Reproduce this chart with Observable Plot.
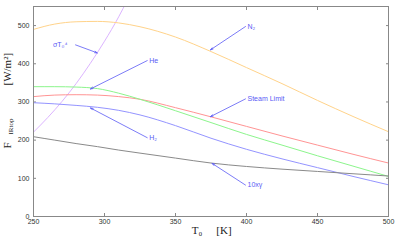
<!DOCTYPE html>
<html>
<head>
<meta charset="utf-8">
<script src="https://cdn.jsdelivr.net/npm/d3@7"></script>
<script src="https://cdn.jsdelivr.net/npm/@observablehq/plot@0.6"></script>
<style>
  html, body { margin: 0; padding: 0; background: #fff; }
</style>
</head>
<body>
<div id="chart"></div>
<script>
// Temperature grid (K)
const temps = [250, 265, 280, 295, 310, 325, 350, 375, 400, 425, 450, 475, 500];
// Series values (W/m^2)
const n2    = [490, 504, 510, 511, 507, 497, 470, 432, 390, 348, 304, 262, 222];
const steam = [314, 318, 319, 318, 314, 307, 285, 261, 236, 211, 187, 163, 140];
const he    = [340, 340, 339, 335, 323, 307, 277, 246, 215, 187, 159, 132, 105];
const h2    = [298, 295, 291, 286, 278, 266, 238, 205, 176, 151, 128, 105, 83];
const gamma10 = [209, 200, 191, 183, 174, 166, 153, 140, 131, 124, 118, 112, 106];
// sigma T0^4 curve
const sigmaTemps = [250, 260, 270, 280, 290, 300, 310, 316];
const sigmaVals  = [221, 259, 301, 348, 401, 459, 523, 566];

const xTicks = [250, 300, 350, 400, 450, 500];
const yTicks = [0, 100, 200, 300, 400, 500];

// Annotations: label, text anchor point, arrow tip
const annLabels = ["N₂", "σT₀⁴", "He", "Steam Limit", "H₂", "10xγ"];
const annFromT  = [399.3, 279.6, 330.1, 399.3, 330.1, 399.3];
const annFromV  = [497.5, 449.5, 408.3, 308.0, 206.4, 82.3];
const annToT    = [374.6, 294.9, 290.1, 374.6, 290.1, 375.8];
const annToV    = [436.4, 428.5, 334.0, 261.5, 284.3, 139.0];
const annSide   = ["start", "end", "start", "start", "start", "start"];

const seriesDefs = [
  {name: "N2", values: n2, color: "#ffd38a"},
  {name: "Steam", values: steam, color: "#ff9494"},
  {name: "He", values: he, color: "#8cf58c"},
  {name: "H2", values: h2, color: "#9494ff"},
  {name: "gamma", values: gamma10, color: "#8a8a8a"}
];
const lineData = seriesDefs.flatMap(s => temps.map((t, i) => ({series: s.name, T: t, v: s.values[i], color: s.color})));
const sigmaData = sigmaTemps.map((t, i) => ({T: t, v: sigmaVals[i]}));
const ann = annLabels.map((l, i) => ({label: l, x1: annFromT[i], y1: annFromV[i], x2: annToT[i], y2: annToV[i], side: annSide[i]}));

const annColor = "#5a5af5";
const font = "Liberation Sans, Arial, sans-serif";
const serif = "Liberation Serif, Times New Roman, serif";

const chart = Plot.plot({
  width: 400,
  height: 244,
  marginLeft: 33,
  marginRight: 12,
  marginTop: 6,
  marginBottom: 28,
  style: {background: "#fff", fontFamily: font, fontSize: "7px", color: "#333"},
  x: {domain: [250, 500]},
  y: {domain: [0, 550]},
  marks: [
    Plot.axisX({anchor: "bottom", ticks: xTicks, tickSize: -3, tickPadding: 6, label: null, stroke: "#888", fill: "#333", fontSize: 7}),
    Plot.axisX({anchor: "top", ticks: xTicks, tickSize: -3, tickFormat: () => "", label: null, stroke: "#888"}),
    Plot.axisY({anchor: "left", ticks: yTicks, tickSize: -3, tickPadding: 7, label: null, stroke: "#888", fill: "#333", fontSize: 7}),
    Plot.axisY({anchor: "right", ticks: yTicks, tickSize: -3, tickFormat: () => "", label: null, stroke: "#888"}),
    Plot.line(sigmaData, {x: "T", y: "v", stroke: "#dcb4ff", strokeWidth: 1, curve: "monotone-x", clip: true}),
    Plot.line(lineData, {x: "T", y: "v", z: "series", stroke: "color", strokeWidth: 1, curve: "monotone-x", clip: true}),
    Plot.frame({stroke: "#888", strokeWidth: 1}),
    Plot.arrow(ann, {x1: "x1", y1: "y1", x2: "x2", y2: "y2", stroke: annColor, strokeWidth: 0.8, headLength: 5, headAngle: 35}),
    Plot.text(ann.filter(d => d.side === "start"), {x: "x1", y: "y1", text: "label", textAnchor: "start", dx: 2, fill: annColor, fontSize: 7, fontFamily: font}),
    Plot.text(ann.filter(d => d.side === "end"), {x: "x1", y: "y1", text: "label", textAnchor: "end", dx: -8, fill: annColor, fontSize: 7, fontFamily: font}),
    // x axis title
    Plot.text(["T₀"], {frameAnchor: "bottom", dx: -14, dy: 17, fontFamily: serif, fontSize: 11, fill: "#222", textAnchor: "middle"}),
    Plot.text(["[K]"], {frameAnchor: "bottom", dx: 13, dy: 17, fontFamily: serif, fontSize: 11, fill: "#222", textAnchor: "middle"}),
    // y axis title pieces
    Plot.text(["F"], {frameAnchor: "left", rotate: -90, dx: -26, dy: 37, fontFamily: serif, fontSize: 11, fill: "#222"}),
    Plot.text(["IRtop"], {frameAnchor: "left", rotate: -90, dx: -23, dy: 23, fontFamily: serif, fontSize: 7, fill: "#222"}),
    Plot.text(["[W/m²]"], {frameAnchor: "left", rotate: -90, dx: -26, dy: -26, fontFamily: serif, fontSize: 11, fill: "#222"})
  ]
});
document.getElementById("chart").appendChild(chart);
</script>
</body>
</html>
